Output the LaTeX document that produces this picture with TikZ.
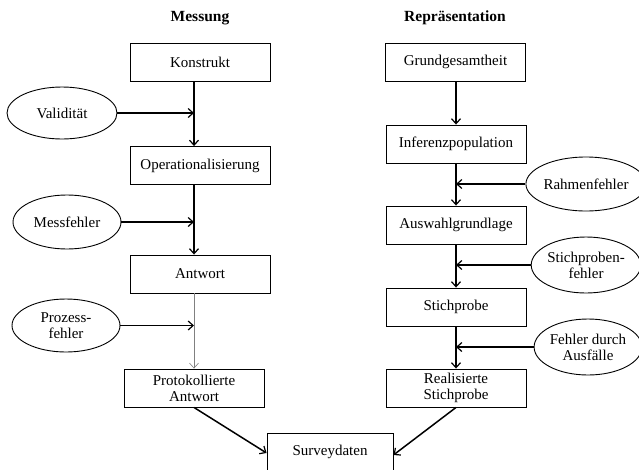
\documentclass[tikz,border=0pt]{standalone}
\usepackage{fontspec}
\setmainfont{Liberation Serif}
\usetikzlibrary{shapes.geometric,arrows.meta}
\tikzset{
  box/.style={draw,line width=0.9pt,minimum width=140,minimum height=38,inner sep=0pt,align=center,font=\fontsize{15}{16}\selectfont},
  oval/.style={draw,ellipse,line width=0.9pt,minimum width=108,minimum height=54,inner sep=0pt,align=center,font=\fontsize{15}{16}\selectfont},
  title/.style={font=\fontsize{15.5}{17}\selectfont\bfseries},
  arr/.style={line width=1.5pt,-{Straight Barb[length=5pt,width=9pt,line width=1.2pt]}},
  garr/.style={line width=0.7pt,draw=gray,-{Straight Barb[length=5pt,width=9pt,line width=0.6pt]}}
}
\begin{document}
\begin{tikzpicture}[x=1pt,y=-1pt]
\useasboundingbox (0,0) rectangle (639,469);
\clip (0,0) rectangle (639,469);
\coordinate (lx) at (194,0);
\coordinate (rx) at (456,0);
% titles
\node[title] (tm) at (200,18) {Messung};
\node[title] (tr) at (455,18) {Repräsentation};
% left column
\node[box] (K) at (200,62) {Konstrukt};
\node[box] (O) at (200,165.5) {Operationalisierung};
\node[box] (A) at (200,274) {Antwort};
\node[box] (P) at (194,388) {Protokollierte\\Antwort};
\node[oval,minimum width=110,minimum height=52] (V) at (62,113) {Validität};
\node[oval] (M) at (67,222) {Messfehler};
\node[oval,minimum height=53] (PF) at (66,325.5) {Prozess-\\fehler};
% right column
\node[box] (G) at (455.5,62) {Grundgesamtheit};
\node[box] (I) at (456,144) {Inferenzpopulation};
\node[box] (AG) at (456,225) {Auswahlgrundlage};
\node[box] (S) at (456,307) {Stichprobe};
\node[box] (RS) at (456,388) {Realisierte\\Stichprobe};
\node[oval,minimum width=106] (RF) at (586,184) {Rahmenfehler};
\node[oval,minimum width=106,minimum height=56] (SF) at (586,265) {Stichproben-\\fehler};
\node[oval,minimum width=106,minimum height=56] (FA) at (588,347) {Fehler durch\\Ausfälle};
% bottom
\node[box,minimum width=126] (SD) at (330,452) {Surveydaten};
% left connectors
\draw[arr] (K.south -| lx) -- (O.north -| lx);
\draw[arr] (V.east) -- (V.east -| lx);
\draw[arr] (O.south -| lx) -- (A.north -| lx);
\draw[arr] (M.east) -- (M.east -| lx);
\draw[garr] (A.south -| lx) -- (P.north -| lx);
\draw[arr] (PF.east) -- (PF.east -| lx);
% right connectors
\draw[arr] (G.south -| rx) -- (I.north -| rx);
\draw[arr] (I.south -| rx) -- (AG.north -| rx);
\draw[arr] (RF.west) -- (RF.west -| rx);
\draw[arr] (AG.south -| rx) -- (S.north -| rx);
\draw[arr] (SF.west) -- (SF.west -| rx);
\draw[arr] (S.south -| rx) -- (RS.north -| rx);
\draw[arr] (FA.west) -- (FA.west -| rx);
% to survey data
\draw[arr] (P.south) -- ([yshift=-1]SD.west);
\draw[arr] (RS.south) -- ([yshift=-3]SD.east);
\end{tikzpicture}
\end{document}
